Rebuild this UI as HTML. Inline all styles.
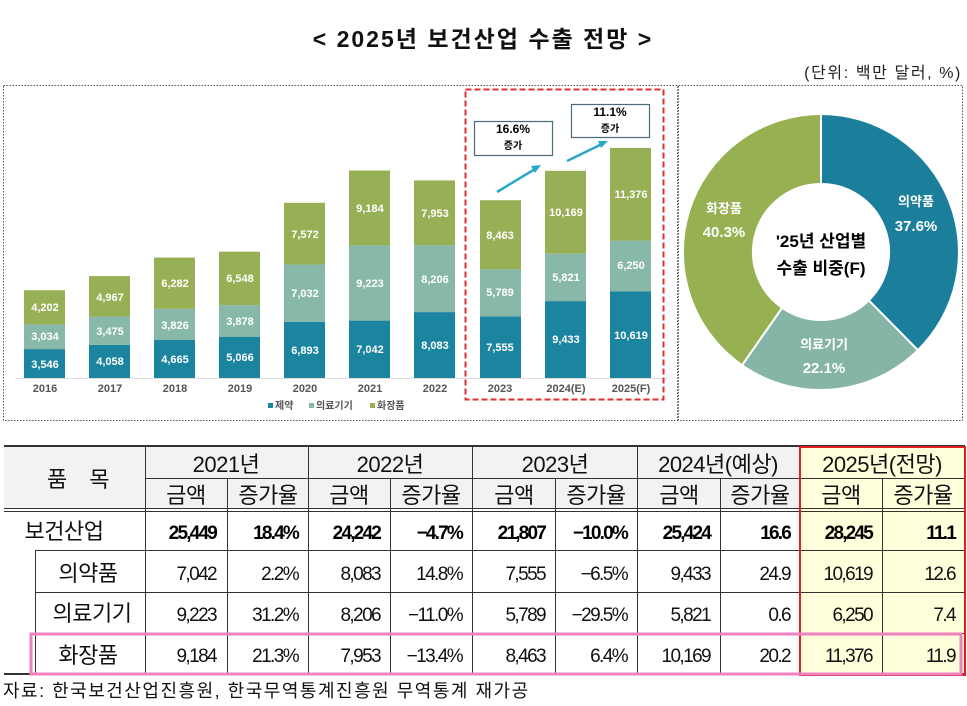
<!DOCTYPE html>
<html><head><meta charset="utf-8"><style>
html,body{margin:0;padding:0;background:#fff;}
svg{display:block;font-family:"Liberation Sans","Noto Sans CJK KR",sans-serif;}
.bl{fill:#fff;font-weight:bold;font-size:11px;text-anchor:middle;}
.yr{fill:#555;font-weight:bold;font-size:11px;text-anchor:middle;}
.t{font-size:22px;text-anchor:middle;fill:#111;letter-spacing:-0.5px;}
.n{font-size:19px;text-anchor:end;fill:#111;letter-spacing:-1.6px;}
.nb{font-size:19px;text-anchor:end;fill:#000;font-weight:bold;letter-spacing:-1.8px;}
</style></head><body>
<svg width="967" height="706" viewBox="0 0 967 706">
<text x="483" y="47" font-size="23" font-weight="bold" text-anchor="middle" fill="#111" letter-spacing="2">&lt; 2025년 보건산업 수출 전망 &gt;</text>
<text x="962" y="78" font-size="16" text-anchor="end" fill="#222" letter-spacing="1.6">(단위: 백만 달러, %)</text>
<rect x="3.5" y="85.5" width="674" height="335" fill="none" stroke="#555" stroke-dasharray="1.5 1.5"/>
<rect x="678.5" y="85.5" width="284" height="335" fill="none" stroke="#555" stroke-dasharray="1.5 1.5"/>
<line x1="15" y1="378.5" x2="668" y2="378.5" stroke="#ddd"/>
<g>
<rect x="24" y="349.1" width="41" height="28.9" fill="#1b849f"/><rect x="24" y="324.4" width="41" height="24.7" fill="#88b8aa"/><rect x="24" y="290.2" width="41" height="34.2" fill="#97b055"/>
<rect x="89" y="344.9" width="41" height="33.1" fill="#1b849f"/><rect x="89" y="316.6" width="41" height="28.3" fill="#88b8aa"/><rect x="89" y="276.1" width="41" height="40.5" fill="#97b055"/>
<rect x="154" y="340" width="41" height="38" fill="#1b849f"/><rect x="154" y="308.8" width="41" height="31.2" fill="#88b8aa"/><rect x="154" y="257.6" width="41" height="51.2" fill="#97b055"/>
<rect x="219" y="336.7" width="41" height="41.3" fill="#1b849f"/><rect x="219" y="305.1" width="41" height="31.6" fill="#88b8aa"/><rect x="219" y="251.7" width="41" height="53.4" fill="#97b055"/>
<rect x="284" y="321.8" width="41" height="56.2" fill="#1b849f"/><rect x="284" y="264.5" width="41" height="57.3" fill="#88b8aa"/><rect x="284" y="202.8" width="41" height="61.7" fill="#97b055"/>
<rect x="349" y="320.6" width="41" height="57.4" fill="#1b849f"/><rect x="349" y="245.4" width="41" height="75.2" fill="#88b8aa"/><rect x="349" y="170.5" width="41" height="74.9" fill="#97b055"/>
<rect x="414" y="312.1" width="41" height="65.9" fill="#1b849f"/><rect x="414" y="245.2" width="41" height="66.9" fill="#88b8aa"/><rect x="414" y="180.4" width="41" height="64.8" fill="#97b055"/>
<rect x="480" y="316.4" width="41" height="61.6" fill="#1b849f"/><rect x="480" y="269.2" width="41" height="47.2" fill="#88b8aa"/><rect x="480" y="200.2" width="41" height="69" fill="#97b055"/>
<rect x="545" y="301.1" width="41" height="76.9" fill="#1b849f"/><rect x="545" y="253.7" width="41" height="47.4" fill="#88b8aa"/><rect x="545" y="170.8" width="41" height="82.9" fill="#97b055"/>
<rect x="610" y="291.5" width="41" height="86.5" fill="#1b849f"/><rect x="610" y="240.6" width="41" height="50.9" fill="#88b8aa"/><rect x="610" y="147.9" width="41" height="92.7" fill="#97b055"/>
</g>
<g class="bl">
<text x="45" y="368">3,546</text><text x="45" y="340">3,034</text><text x="45" y="311">4,202</text>
<text x="110" y="365">4,058</text><text x="110" y="335">3,475</text><text x="110" y="301">4,967</text>
<text x="175" y="363">4,665</text><text x="175" y="329">3,826</text><text x="175" y="287">6,282</text>
<text x="240" y="361">5,066</text><text x="240" y="325">3,878</text><text x="240" y="282">6,548</text>
<text x="305" y="354">6,893</text><text x="305" y="297">7,032</text><text x="305" y="238">7,572</text>
<text x="370" y="353">7,042</text><text x="370" y="287">9,223</text><text x="370" y="212">9,184</text>
<text x="435" y="349">8,083</text><text x="435" y="283">8,206</text><text x="435" y="217">7,953</text>
<text x="500" y="351">7,555</text><text x="500" y="296">5,789</text><text x="500" y="239">8,463</text>
<text x="566" y="343">9,433</text><text x="566" y="281">5,821</text><text x="566" y="216">10,169</text>
<text x="631" y="339">10,619</text><text x="631" y="269">6,250</text><text x="631" y="198">11,376</text>
</g>
<g class="yr">
<text x="45" y="392">2016</text><text x="110" y="392">2017</text><text x="175" y="392">2018</text><text x="240" y="392">2019</text><text x="305" y="392">2020</text><text x="370" y="392">2021</text><text x="435" y="392">2022</text><text x="500" y="392">2023</text><text x="566" y="392">2024(E)</text><text x="631" y="392">2025(F)</text>
</g>
<g font-size="10" font-weight="bold" fill="#555">
<rect x="268" y="403" width="5" height="5" fill="#1b849f"/><text x="275" y="409">제약</text>
<rect x="309" y="403" width="5" height="5" fill="#88b8aa"/><text x="316" y="409">의료기기</text>
<rect x="370" y="403" width="5" height="5" fill="#97b055"/><text x="377" y="409">화장품</text>
</g>
<rect x="465.5" y="89.5" width="198" height="310" fill="none" stroke="#e03030" stroke-width="2" stroke-dasharray="6 3"/>
<rect x="474.5" y="121.5" width="78" height="34" fill="#fff" stroke="#4a6a78" stroke-width="1.2"/>
<text x="513" y="133" font-size="12" font-weight="bold" text-anchor="middle">16.6%</text>
<text x="513" y="149" font-size="10" font-weight="bold" text-anchor="middle">증가</text>
<rect x="571.5" y="104.5" width="78" height="33" fill="#fff" stroke="#4a6a78" stroke-width="1.2"/>
<text x="610" y="116" font-size="12" font-weight="bold" text-anchor="middle">11.1%</text>
<text x="610" y="132" font-size="10" font-weight="bold" text-anchor="middle">증가</text>
<line x1="497" y1="192" x2="535" y2="169" stroke="#2aa7c9" stroke-width="2.5"/><polygon points="541,165 531,166 535,173" fill="#2aa7c9"/>
<line x1="567" y1="161" x2="602" y2="144" stroke="#2aa7c9" stroke-width="2.5"/><polygon points="608,141 598,141 601,148" fill="#2aa7c9"/>
<g stroke="#fff" stroke-width="2">
<path d="M821,114 A138,138 0 0 1 917.9,350.2 L868.8,300.4 A68,68 0 0 0 821,184 Z" fill="#1b7f9c"/>
<path d="M917.9,350.2 A138,138 0 0 1 742,365.2 L782.1,307.8 A68,68 0 0 0 868.8,300.4 Z" fill="#86b5a8"/>
<path d="M742,365.2 A138,138 0 0 1 821,114 L821,184 A68,68 0 0 0 782.1,307.8 Z" fill="#97b052"/>
</g>
<g fill="#fff" font-weight="bold" text-anchor="middle">
<text x="916" y="206" font-size="13">의약품</text><text x="916" y="231" font-size="15">37.6%</text>
<text x="724" y="213" font-size="13">화장품</text><text x="724" y="237" font-size="15">40.3%</text>
<text x="824" y="349" font-size="13">의료기기</text><text x="824" y="373" font-size="15">22.1%</text>
</g>
<text x="821" y="247" font-size="17" font-weight="bold" text-anchor="middle">'25년 산업별</text>
<text x="821" y="274" font-size="17" font-weight="bold" text-anchor="middle">수출 비중(F)</text>
<rect x="4" y="446" width="961" height="63" fill="#f2f2f2"/>
<rect x="800" y="446" width="165" height="228" fill="#ffffdc"/>
<g stroke="#333" stroke-width="1">
<line x1="4" y1="446" x2="965" y2="446" stroke-width="2"/>
<line x1="145" y1="478.5" x2="965" y2="478.5"/>
<line x1="4" y1="508.5" x2="965" y2="508.5"/>
<line x1="4" y1="511.5" x2="965" y2="511.5"/>
<line x1="35" y1="550.5" x2="965" y2="550.5"/>
<line x1="35" y1="592.5" x2="965" y2="592.5"/>
<line x1="35" y1="633.5" x2="965" y2="633.5"/>
<line x1="4" y1="674" x2="965" y2="674" stroke-width="2"/>
<line x1="35.5" y1="550" x2="35.5" y2="674"/>
<line x1="145.5" y1="446" x2="145.5" y2="674"/>
<line x1="308.5" y1="446" x2="308.5" y2="674"/>
<line x1="472.5" y1="446" x2="472.5" y2="674"/>
<line x1="637.5" y1="446" x2="637.5" y2="674"/>
<line x1="800.5" y1="446" x2="800.5" y2="674"/>
<line x1="227.5" y1="478" x2="227.5" y2="674"/>
<line x1="390.5" y1="478" x2="390.5" y2="674"/>
<line x1="555.5" y1="478" x2="555.5" y2="674"/>
<line x1="720.5" y1="478" x2="720.5" y2="674"/>
<line x1="882.5" y1="478" x2="882.5" y2="674"/>
</g>
<rect x="800" y="447" width="165" height="228" fill="none" stroke="#e02020" stroke-width="2"/>
<rect x="31" y="634" width="930" height="40" fill="none" stroke="#f080c0" stroke-width="3"/>
<g class="t">
<text x="78" y="487">품&#160;&#160;&#160;&#160;목</text>
<text x="226" y="472">2021년</text><text x="390" y="472">2022년</text><text x="555" y="472">2023년</text><text x="718" y="472">2024년(예상)</text><text x="882" y="472">2025년(전망)</text>
<text x="186" y="503">금액</text><text x="268" y="503">증가율</text><text x="349" y="503">금액</text><text x="431" y="503">증가율</text><text x="514" y="503">금액</text><text x="596" y="503">증가율</text><text x="679" y="503">금액</text><text x="760" y="503">증가율</text><text x="841" y="503">금액</text><text x="923" y="503">증가율</text>
<text x="64" y="539">보건산업</text>
<text x="88" y="581">의약품</text>
<text x="92" y="621">의료기기</text>
<text x="88" y="663">화장품</text>
</g>
<g class="nb">
<text x="216" y="539">25,449</text><text x="298" y="539">18.4%</text><text x="380" y="539">24,242</text><text x="462" y="539">−4.7%</text><text x="545" y="539">21,807</text><text x="627" y="539">−10.0%</text><text x="710" y="539">25,424</text><text x="790" y="539">16.6</text><text x="872" y="539">28,245</text><text x="955" y="539">11.1</text>
</g>
<g class="n">
<text x="216" y="580">7,042</text><text x="298" y="580">2.2%</text><text x="380" y="580">8,083</text><text x="462" y="580">14.8%</text><text x="545" y="580">7,555</text><text x="627" y="580">−6.5%</text><text x="710" y="580">9,433</text><text x="790" y="580">24.9</text><text x="872" y="580">10,619</text><text x="955" y="580">12.6</text>
<text x="216" y="621">9,223</text><text x="298" y="621">31.2%</text><text x="380" y="621">8,206</text><text x="462" y="621">−11.0%</text><text x="545" y="621">5,789</text><text x="627" y="621">−29.5%</text><text x="710" y="621">5,821</text><text x="790" y="621">0.6</text><text x="872" y="621">6,250</text><text x="955" y="621">7.4</text>
<text x="216" y="662">9,184</text><text x="298" y="662">21.3%</text><text x="380" y="662">7,953</text><text x="462" y="662">−13.4%</text><text x="545" y="662">8,463</text><text x="627" y="662">6.4%</text><text x="710" y="662">10,169</text><text x="790" y="662">20.2</text><text x="872" y="662">11,376</text><text x="955" y="662">11.9</text>
</g>
<text x="3" y="697" font-size="18" fill="#111" letter-spacing="1.5">자료: 한국보건산업진흥원, 한국무역통계진흥원 무역통계 재가공</text>
</svg>
</body></html>
